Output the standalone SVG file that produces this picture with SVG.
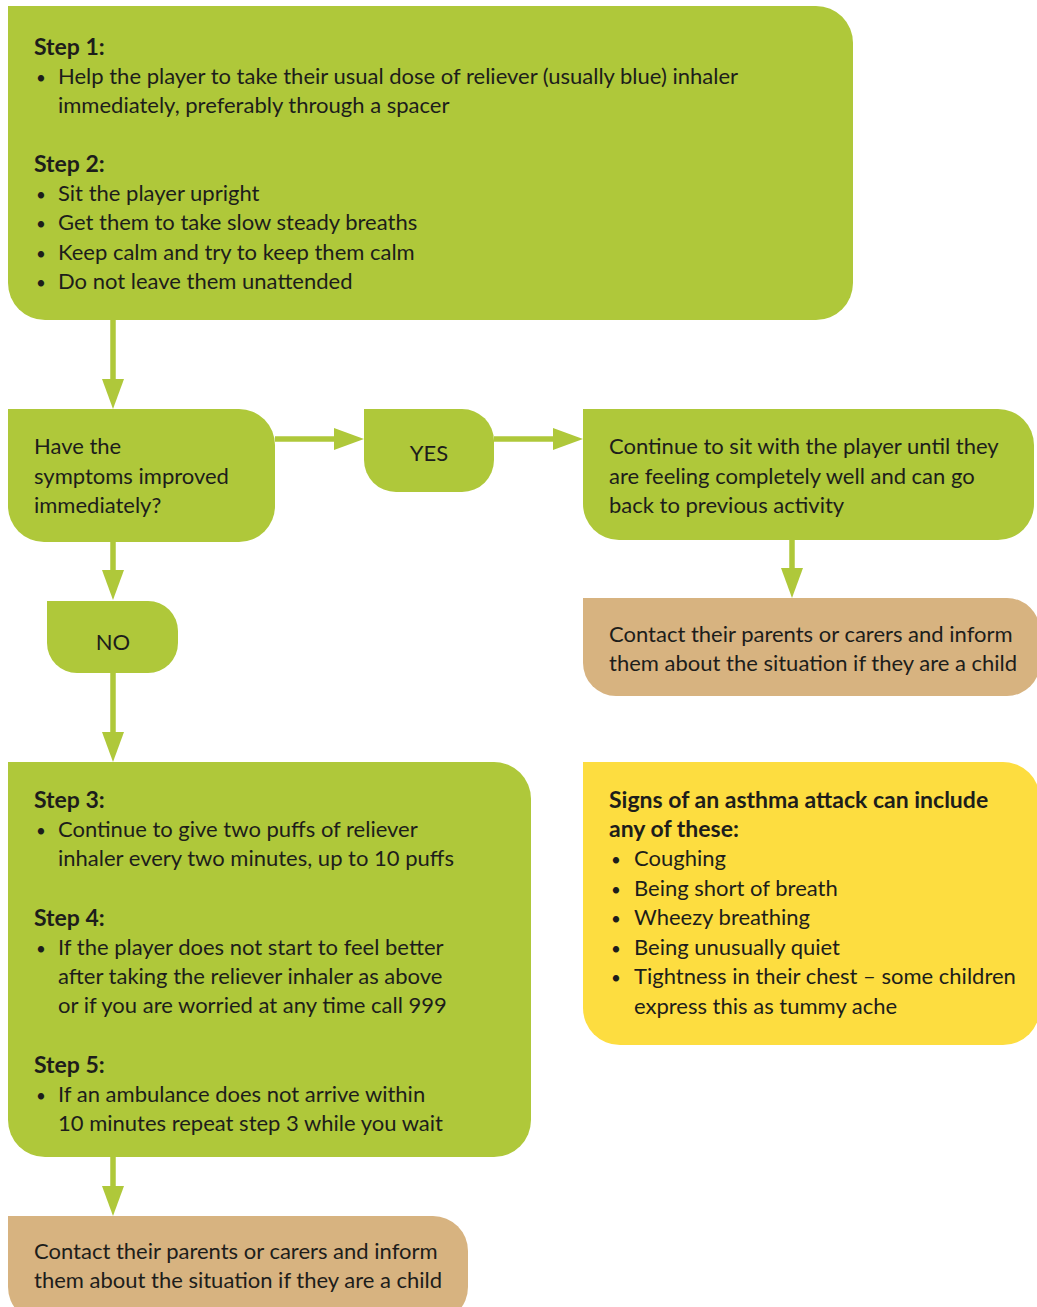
<svg xmlns="http://www.w3.org/2000/svg" width="1037" height="1307" viewBox="0 0 1037 1307">
<style>
.g{fill:#afc83a}
.t{fill:#d7b380}
.y{fill:#fddd40}
text{font-family:Lato,"Liberation Sans",sans-serif;font-size:22px;fill:#1d1d1b}
.b{font-weight:bold;font-size:23px}
.d{font-size:17px}
.c{text-anchor:middle}
.ln{stroke:#afc83a;stroke-width:5.5;fill:none;marker-end:url(#ah)}
</style>
<defs>
<marker id="ah" viewBox="0 0 30 22" refX="20" refY="11" markerWidth="30" markerHeight="22" markerUnits="userSpaceOnUse" orient="auto">
<path d="M0 0 L30 11 L0 22 Z" fill="#afc83a"/>
</marker>
</defs>
<rect width="1037" height="1307" fill="#fff"/>
<g id="connectors">
<path class="ln" d="M113 320 V399"/>
<path class="ln" d="M113 542 V590"/>
<path class="ln" d="M113 673 V752"/>
<path class="ln" d="M113 1157 V1206"/>
<path class="ln" d="M275 439 H354"/>
<path class="ln" d="M494 439 H573"/>
<path class="ln" d="M792 540 V588"/>
</g>
<g id="step12">
<path class="g" d="M8 6 H816 A37 37 0 0 1 853 43 V283 A37 37 0 0 1 816 320 H45 A37 37 0 0 1 8 283 Z"/>
<text class="b" x="34" y="55">Step 1:</text>
<text class="d" x="36" y="84">•</text><text x="58" y="84">Help the player to take their usual dose of reliever (usually blue) inhaler</text>
<text x="58" y="113">immediately, preferably through a spacer</text>
<text class="b" x="34" y="172">Step 2:</text>
<text class="d" x="36" y="201">•</text><text x="58" y="201">Sit the player upright</text>
<text class="d" x="36" y="230">•</text><text x="58" y="230">Get them to take slow steady breaths</text>
<text class="d" x="36" y="260">•</text><text x="58" y="260">Keep calm and try to keep them calm</text>
<text class="d" x="36" y="289">•</text><text x="58" y="289">Do not leave them unattended</text>
</g>
<g id="question">
<path class="g" d="M8 409 H239 A36 36 0 0 1 275 445 V506 A36 36 0 0 1 239 542 H44 A36 36 0 0 1 8 506 Z"/>
<text x="34" y="454">Have the</text>
<text x="34" y="484">symptoms improved</text>
<text x="34" y="513">immediately?</text>
</g>
<g id="yes">
<path class="g" d="M364 409 H462 A32 32 0 0 1 494 441 V460 A32 32 0 0 1 462 492 H396 A32 32 0 0 1 364 460 Z"/>
<text class="c" x="429" y="461">YES</text>
</g>
<g id="continue">
<path class="g" d="M583 409 H998 A36 36 0 0 1 1034 445 V504 A36 36 0 0 1 998 540 H619 A36 36 0 0 1 583 504 Z"/>
<text x="609" y="454">Continue to sit with the player until they</text>
<text x="609" y="484">are feeling completely well and can go</text>
<text x="609" y="513">back to previous activity</text>
</g>
<g id="contact1">
<path class="t" d="M583 598 H1007 A33 33 0 0 1 1040 631 V663 A33 33 0 0 1 1007 696 H616 A33 33 0 0 1 583 663 Z"/>
<text x="609" y="642">Contact their parents or carers and inform</text>
<text x="609" y="671">them about the situation if they are a child</text>
</g>
<g id="no">
<path class="g" d="M47 601 H148 A30 30 0 0 1 178 631 V643 A30 30 0 0 1 148 673 H77 A30 30 0 0 1 47 643 Z"/>
<text class="c" x="113" y="650">NO</text>
</g>
<g id="step345">
<path class="g" d="M8 762 H494 A37 37 0 0 1 531 799 V1120 A37 37 0 0 1 494 1157 H45 A37 37 0 0 1 8 1120 Z"/>
<text class="b" x="34" y="808">Step 3:</text>
<text class="d" x="36" y="837">•</text><text x="58" y="837">Continue to give two puffs of reliever</text>
<text x="58" y="866">inhaler every two minutes, up to 10 puffs</text>
<text class="b" x="34" y="926">Step 4:</text>
<text class="d" x="36" y="955">•</text><text x="58" y="955">If the player does not start to feel better</text>
<text x="58" y="984">after taking the reliever inhaler as above</text>
<text x="58" y="1013">or if you are worried at any time call 999</text>
<text class="b" x="34" y="1073">Step 5:</text>
<text class="d" x="36" y="1102">•</text><text x="58" y="1102">If an ambulance does not arrive within</text>
<text x="58" y="1131">10 minutes repeat step 3 while you wait</text>
</g>
<g id="signs">
<path class="y" d="M583 762 H1003 A37 37 0 0 1 1040 799 V1008 A37 37 0 0 1 1003 1045 H620 A37 37 0 0 1 583 1008 Z"/>
<text class="b" x="609" y="808">Signs of an asthma attack can include</text>
<text class="b" x="609" y="837">any of these:</text>
<text class="d" x="611" y="866">•</text><text x="634" y="866">Coughing</text>
<text class="d" x="611" y="896">•</text><text x="634" y="896">Being short of breath</text>
<text class="d" x="611" y="925">•</text><text x="634" y="925">Wheezy breathing</text>
<text class="d" x="611" y="955">•</text><text x="634" y="955">Being unusually quiet</text>
<text class="d" x="611" y="984">•</text><text x="634" y="984">Tightness in their chest – some children</text>
<text x="634" y="1014">express this as tummy ache</text>
</g>
<g id="contact2">
<path class="t" d="M8 1216 H433 A35 35 0 0 1 468 1251 V1287 A35 35 0 0 1 433 1322 H43 A35 35 0 0 1 8 1287 Z"/>
<text x="34" y="1259">Contact their parents or carers and inform</text>
<text x="34" y="1288">them about the situation if they are a child</text>
</g>
</svg>
